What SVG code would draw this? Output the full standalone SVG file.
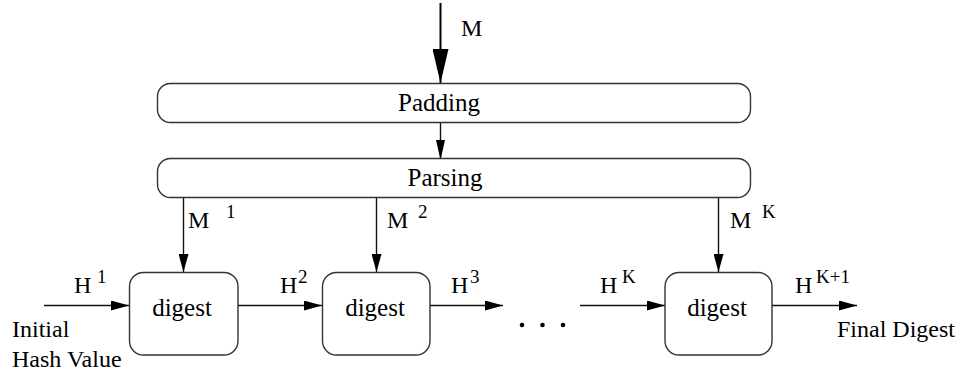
<svg xmlns="http://www.w3.org/2000/svg" width="966" height="379" viewBox="0 0 966 379">
  <style>
    text { fill: #000; font-family: "Liberation Serif", "Times New Roman", serif; }
    .lbl { font-size: 24px; }
    .sup { font-size: 19px; }
    .box { font-size: 25px; text-anchor: middle; }
    .shape { fill: #fff; stroke: #333; stroke-width: 1.4; }
    .wire { stroke: #111; stroke-width: 1.4; fill: none; }
    .wire-thick { stroke: #000; stroke-width: 2; fill: none; }
  </style>
  <defs>
    <marker id="head" markerUnits="userSpaceOnUse" markerWidth="18" markerHeight="10" refX="18" refY="5" orient="auto">
      <path d="M0,0 L18,5 L0,10 Z" fill="#000"/>
    </marker>
    <marker id="head-mid" markerUnits="userSpaceOnUse" markerWidth="20" markerHeight="9" refX="20" refY="4.5" orient="auto">
      <path d="M0,0 L20,4.5 L0,9 Z" fill="#000"/>
    </marker>
    <marker id="head-big" markerUnits="userSpaceOnUse" markerWidth="34" markerHeight="16" refX="34" refY="8" orient="auto">
      <path d="M0,0 L34,8 L0,16 Z" fill="#000"/>
    </marker>
  </defs>

  <!-- connectors -->
  <g id="connectors">
    <line class="wire-thick" x1="440.5" y1="3" x2="440.5" y2="83" marker-end="url(#head-big)"/>
    <line class="wire" x1="440.5" y1="123" x2="440.5" y2="160" marker-end="url(#head-mid)"/>
    <line class="wire" x1="183.5" y1="198" x2="183.5" y2="272" marker-end="url(#head)"/>
    <line class="wire" x1="376.5" y1="198" x2="376.5" y2="272" marker-end="url(#head)"/>
    <line class="wire" x1="718.5" y1="198" x2="718.5" y2="272" marker-end="url(#head)"/>
    <line class="wire" x1="44" y1="305.5" x2="129" y2="305.5" marker-end="url(#head)"/>
    <line class="wire" x1="238" y1="305.5" x2="322" y2="305.5" marker-end="url(#head)"/>
    <line class="wire" x1="430" y1="305.5" x2="503" y2="305.5" marker-end="url(#head)"/>
    <line class="wire" x1="580" y1="305.5" x2="665" y2="305.5" marker-end="url(#head)"/>
    <line class="wire" x1="772" y1="305.5" x2="857" y2="305.5" marker-end="url(#head)"/>
  </g>

  <!-- edge labels -->
  <g id="labels">
    <text class="lbl" x="461" y="36">M</text>
    <text class="lbl" x="188" y="228">M</text><text class="sup" x="226" y="218">1</text>
    <text class="lbl" x="387" y="228">M</text><text class="sup" x="418" y="218">2</text>
    <text class="lbl" x="730" y="228">M</text><text class="sup" x="762" y="218">K</text>
    <text class="lbl" x="74" y="293">H</text><text class="sup" x="97" y="283">1</text>
    <text class="lbl" x="280" y="293">H</text><text class="sup" x="298" y="283">2</text>
    <text class="lbl" x="451" y="293">H</text><text class="sup" x="470" y="283">3</text>
    <text class="lbl" x="600" y="293">H</text><text class="sup" x="622" y="283">K</text>
    <text class="lbl" x="795" y="293">H</text><text class="sup" x="816" y="283">K+1</text>
    <text class="lbl" x="12" y="337">Initial</text>
    <text class="lbl" x="12" y="367">Hash Value</text>
    <text class="lbl" x="837" y="337">Final Digest</text>
  </g>

  <!-- continuation dots -->
  <g id="ellipsis" fill="#000">
    <circle cx="522" cy="325" r="2.3"/>
    <circle cx="542.5" cy="325" r="2.3"/>
    <circle cx="563" cy="325" r="2.3"/>
  </g>

  <g id="padding">
    <rect class="shape" x="157.5" y="83.5" width="593" height="39" rx="13"/>
    <text class="box" x="439" y="111">Padding</text>
  </g>
  <g id="parsing">
    <rect class="shape" x="157.5" y="158.5" width="593" height="39" rx="13"/>
    <text class="box" x="445" y="186">Parsing</text>
  </g>
  <g id="digest1">
    <rect class="shape" x="129.5" y="272.5" width="108.5" height="82.5" rx="14"/>
    <text class="box" x="182" y="315.5">digest</text>
  </g>
  <g id="digest2">
    <rect class="shape" x="322.5" y="272.5" width="107.5" height="82.5" rx="14"/>
    <text class="box" x="375" y="315.5">digest</text>
  </g>
  <g id="digest3">
    <rect class="shape" x="665" y="272.5" width="107" height="82.5" rx="14"/>
    <text class="box" x="717" y="315.5">digest</text>
  </g>
</svg>
